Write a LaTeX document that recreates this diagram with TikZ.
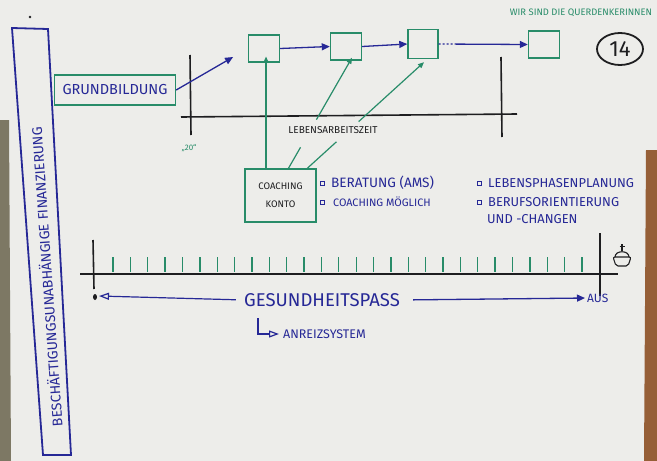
\documentclass[tikz,border=0pt]{standalone}
\usepackage{fontspec}
\setmainfont{Fira Sans}
\usepackage{tikz}
\usetikzlibrary{shapes.geometric, positioning, arrows.meta, calc}
\definecolor{InkBlue}{RGB}{38,40,150}
\definecolor{InkGreen}{RGB}{40,140,105}
\definecolor{InkBlack}{RGB}{30,30,32}
\definecolor{Paper}{RGB}{237,237,234}
\definecolor{Wood}{RGB}{150,95,55}
\definecolor{Shade}{RGB}{125,120,100}
\newcommand{\pen}[1]{\fontsize{#1}{#1}\selectfont}

\begin{document}
\begin{tikzpicture}[x=1pt, y=-1pt,
          gbox/.style={draw=InkGreen, line width=1.4pt, inner sep=0pt},
          txt/.style={inner sep=0pt},
          blk/.style={draw=InkBlack, line width=1.6pt},
          blarr/.style={InkBlue, line width=1.3pt, -{Triangle[length=8pt, width=7pt]}},
          openarr/.style={InkBlue, line width=1.2pt, -{Triangle[open, length=10pt, width=7pt]}},
          garr/.style={InkGreen, line width=1.2pt, -{Triangle[length=6pt, width=5pt]}},
          gline/.style={InkGreen, line width=1.2pt},
          tick/.style={InkGreen, line width=1.3pt},
          sq/.style={draw=InkBlue, line width=0.9pt, minimum size=4pt, inner sep=0pt}
        ]
        % paper
        \fill[Paper] (0,0) rectangle (657,461);
        \fill[Shade] (0,120) -- (9,120) -- (11,461) -- (0,461) -- cycle;
        \fill[Wood] (646,150) -- (657,150) -- (657,461) -- (644,461) -- cycle;
        \useasboundingbox (0,0) rectangle (657,461);
        \fill[InkBlack] (30,17) circle (1.3);

        % side banner
        \draw[InkBlue, line width=1.8pt] (12,28) -- (48,29) -- (71,455) -- (43,455) -- cycle;
        \node[txt, InkBlue, rotate=94, font=\pen{14}] (fin) at (46,277)
              {BESCHÄFTIGUNGSUNABHÄNGIGE FINANZIERUNG};

        \node[txt, InkGreen, font=\pen{9.4}] (motto) at (581,13) {WIR SIND DIE QUERDENKERINNEN};
        \node[draw=InkBlack, ellipse, line width=1.8pt, minimum width=46, minimum height=32,
              inner sep=0pt, font=\pen{22}, text=InkBlack] (page) at (620,49) {14};

        % working life
        \node[gbox, minimum width=121, minimum height=30, font=\pen{14.5}, text=InkBlue]
              (grund) at (115,90) {GRUNDBILDUNG};
        \node[gbox, minimum width=31, minimum height=27] (b1) at (264,48.5) {};
        \node[gbox, minimum width=31, minimum height=27] (b2) at (346,46.5) {};
        \node[gbox, minimum width=30, minimum height=29] (b3) at (423,44) {};
        \node[gbox, minimum width=31, minimum height=27] (b4) at (544,44.5) {};

        \draw[blk] (181,117) -- (517,114);
        \draw[blk] (190,55) -- (191,135);
        \draw[blk] (501,57) -- (502,137);
        \node[txt, InkGreen, font=\pen{8}] (twenty) at (189,148) {„20“};
        \node[txt, InkBlack, font=\pen{10}] (lbl) at (333,130) {LEBENSARBEITSZEIT};

        \draw[blarr, shorten >=17pt] (grund.east) -- (b1.west);
        \draw[blarr] (b1.east) -- (b2.west);
        \draw[blarr] (b2.east) -- (b3.west);
        \draw[blarr, dash pattern=on 2pt off 2pt on 2pt off 2pt on 2pt off 2pt on 2pt off 2pt on 200pt]
              (b3.east) -- (b4.west);

        % coaching account
        \node[gbox, minimum width=71, minimum height=53, text=InkBlack, align=center,
              font=\fontsize{9.5}{18}\selectfont] (ck) at (280.5,195.5) {COACHING\\KONTO};
        \coordinate (ck1) at ($(ck.north west)!0.3!(ck.north east)$);
        \coordinate (ck2) at ($(ck.north west)!0.61!(ck.north east)$);
        \coordinate (ck3) at ($(ck.north west)!0.87!(ck.north east)$);
        \coordinate (t2) at ($(b2.south)+(6,-3)$);
        \coordinate (t3) at ($(b3.south)+(1,3)$);
        \draw[garr, shorten >=8pt] (ck1) -- (ck1 |- b1.center);
        \draw[gline] (ck2) -- ($(ck2)!0.19!(t2)$);
        \draw[garr] ($(ck2)!0.44!(t2)$) -- (t2);
        \draw[gline] (ck3) -- ($(ck3)!0.25!(t3)$);
        \draw[garr] ($(ck3)!0.44!(t3)$) -- (t3);

        \node[sq] (s1) at (322,183) {};
        \node[txt, anchor=west, InkBlue, font=\pen{13.6}] (l1) at (331,183) {BERATUNG (AMS)};
        \node[sq] (s2) at (322,202) {};
        \node[txt, anchor=west, InkBlue, font=\pen{10.8}] (l2) at (333,202) {COACHING MÖGLICH};
        \node[sq] (s3) at (479,183) {};
        \node[txt, anchor=west, InkBlue, font=\pen{12.9}] (r1) at (488,183) {LEBENSPHASENPLANUNG};
        \node[sq] (s4) at (479,202) {};
        \node[txt, anchor=west, InkBlue, font=\pen{12.9}] (r2) at (488,202) {BERUFSORIENTIERUNG};
        \node[txt, anchor=west, InkBlue, font=\pen{12.9}] (r3) at (487,219) {UND -CHANGEN};

        % timeline
        \draw[blk] (80,274) -- (618,274);
        \draw[blk] (93,240) -- (94,289);
        \draw[blk] (600,233) -- (600,296);
        \foreach \i in {0,...,27}
          \draw[tick] ({113+17.37*\i},257) -- ++(0,15);
        \begin{scope}[InkBlack, line width=1.1pt]
          \draw (615,257) .. controls (615,250) and (629,250) .. (629,257);
          \draw[rounded corners=2pt] (613,257) -- (631,257) -- (628,266) -- (616,266) -- cycle;
          \draw (622,251) -- (622,244);
          \draw (619.5,246.5) -- (624.5,246.5);
        \end{scope}

        \node[txt, InkBlue, font=\pen{18.5}] (gp) at (322,300) {GESUNDHEITSPASS};
        \coordinate (start) at (99,296);
        \fill[InkBlack] (95,297) ellipse (2 and 3);
        \draw[openarr, shorten <=8pt] (gp.west) -- (start);
        \node[txt, anchor=west, InkBlue, font=\pen{12}] (aus) at (587,298) {AUS};
        \draw[blarr, shorten <=13pt, shorten >=2pt] (gp.east) -- (aus.west);

        \node[txt, anchor=west, InkBlue, font=\pen{12.5}] (anr) at (283,334) {ANREIZSYSTEM};
        \coordinate (hook) at (258,318);
        \draw[openarr, shorten >=4pt] (hook) |- (anr.west);
      \end{tikzpicture}
\end{document}
